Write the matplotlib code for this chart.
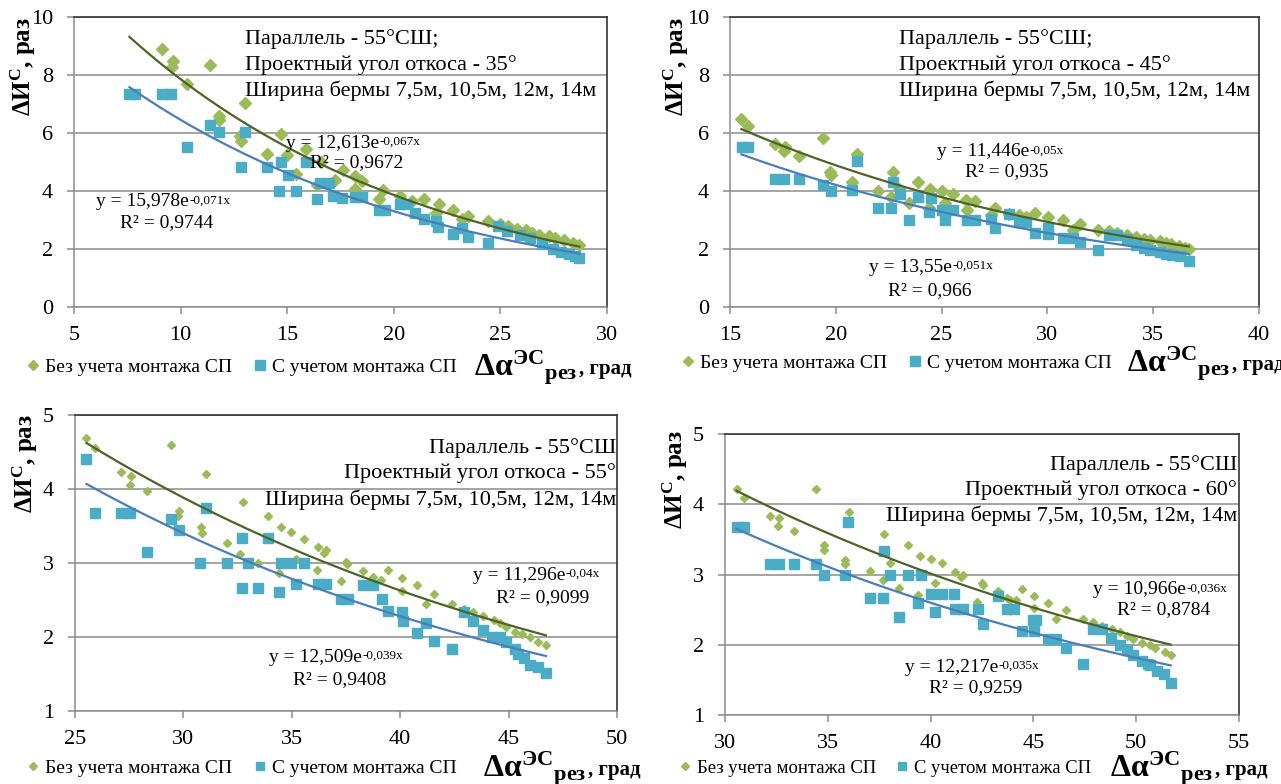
import matplotlib
matplotlib.use('Agg')
import matplotlib.pyplot as plt
import numpy as np

plt.rcParams['font.family'] = ['Liberation Serif', 'DejaVu Serif']
plt.rcParams['mathtext.fontset'] = 'custom'
plt.rcParams['mathtext.rm'] = 'Liberation Serif'
plt.rcParams['mathtext.it'] = 'Liberation Serif:italic'
plt.rcParams['mathtext.bf'] = 'Liberation Serif:bold'

# ---- data ----
p1_green_x = [9.12, 9.63, 9.6, 10.32, 11.37, 11.8, 11.8, 13.0, 12.8, 12.85, 14.03, 14.69, 15.0, 15.4, 15.87,
              16.6, 16.4, 17.25, 17.6, 18.17, 18.17, 18.5, 19.3, 19.5, 20.27, 20.85, 21.4, 22.1, 22.0, 22.8,
              23.2, 23.5, 24.4, 24.97, 25.35, 25.8, 26.2, 26.5, 26.8, 27.3, 27.55, 28.0, 28.4, 28.7]
p1_green_y = [8.88, 8.48, 8.28, 7.69, 8.36, 6.57, 6.45, 7.03, 5.88, 5.71, 5.27, 5.96, 5.23, 4.57, 5.45,
              5.0, 4.22, 4.39, 4.74, 4.51, 4.08, 4.34, 3.71, 4.05, 3.82, 3.65, 3.71, 3.54, 3.25, 3.36,
              3.02, 3.13, 2.96, 2.85, 2.79, 2.70, 2.64, 2.56, 2.50, 2.45, 2.39, 2.31, 2.22, 2.13]
p1_blue_x = [7.6, 7.87, 9.13, 9.55, 10.32, 11.37, 11.81, 13.0, 12.85, 14.03, 14.63, 14.72, 15.03, 15.4, 15.87,
             16.4, 16.54, 16.98, 17.17, 17.56, 18.17, 18.51, 19.3, 19.6, 20.27, 20.6, 21.0, 21.42, 22.0, 22.06,
             22.8, 23.2, 23.5, 24.4, 24.87, 25.3, 25.9, 26.4, 26.97, 27.45, 27.84, 28.22, 28.5, 28.7]
p1_blue_y = [7.33, 7.33, 7.33, 7.33, 5.51, 6.26, 6.03, 6.03, 4.82, 4.83, 3.99, 5.0, 4.54, 3.99, 5.0,
             3.74, 4.28, 4.28, 3.84, 3.76, 3.80, 3.80, 3.36, 3.36, 3.54, 3.54, 3.25, 3.02, 2.96, 2.76,
             2.53, 2.73, 2.41, 2.22, 2.79, 2.62, 2.5, 2.39, 2.16, 1.99, 1.90, 1.82, 1.76, 1.70]

p2_green_x = [15.54, 15.87, 17.12, 17.6, 17.54, 18.28, 19.39, 19.72, 19.76, 20.78, 21.01, 22.0, 22.71, 22.61,
              23.0, 23.44, 23.87, 24.45, 24.41, 25.02, 25.18, 25.56, 26.14, 26.18, 26.56, 27.34, 27.53, 28.2,
              28.68, 28.98, 29.42, 30.03, 30.75, 31.2, 31.54, 32.39, 32.93, 33.3, 33.76, 34.18, 34.56, 34.85,
              35.34, 35.62, 35.82, 36.2, 36.49, 36.68]
p2_green_y = [6.49, 6.24, 5.63, 5.52, 5.39, 5.22, 5.84, 4.66, 4.54, 4.31, 5.26, 4.0, 4.66, 3.79,
              4.08, 3.59, 4.31, 4.08, 3.4, 4.0, 3.59, 3.89, 3.70, 3.33, 3.66, 3.16, 3.43, 3.22,
              3.16, 3.10, 3.25, 3.10, 2.99, 2.64, 2.85, 2.67, 2.61, 2.55, 2.47, 2.41, 2.36, 2.30,
              2.28, 2.22, 2.16, 2.09, 2.05, 1.99]
p2_blue_x = [15.58, 15.87, 17.12, 17.54, 18.28, 19.39, 19.76, 20.78, 21.01, 22.0, 22.61, 22.71, 23.02, 23.44,
             23.87, 24.41, 24.48, 25.02, 25.18, 25.56, 26.18, 26.56, 27.34, 27.53, 28.2, 28.68, 28.98, 29.42,
             30.03, 30.03, 30.75, 31.2, 31.54, 32.39, 32.93, 33.3, 33.76, 34.18, 34.56, 34.85, 35.34, 35.62,
             35.9, 36.29, 36.68]
p2_blue_y = [5.52, 5.52, 4.40, 4.40, 4.40, 4.20, 4.0, 4.02, 5.02, 3.43, 3.43, 4.31, 3.89, 3.01,
             3.79, 3.28, 3.77, 3.36, 3.01, 3.36, 3.01, 3.01, 3.05, 2.72, 3.2, 2.93, 2.93, 2.55,
             2.74, 2.53, 2.39, 2.39, 2.24, 1.98, 2.47, 2.47, 2.33, 2.13, 2.03, 1.98, 1.90, 1.84,
             1.80, 1.75, 1.59]

p3_green_x = [25.53, 25.94, 27.13, 27.58, 27.54, 28.33, 29.43, 29.8, 29.77, 30.8, 30.84, 31.03, 32.03, 32.63,
              32.76, 33.44, 33.89, 34.51, 34.42, 34.97, 35.21, 35.57, 36.2, 36.17, 36.5, 36.58, 37.28, 37.49,
              37.53, 38.28, 38.75, 39.13, 39.45, 40.1, 40.07, 40.77, 41.2, 41.58, 42.39, 42.96, 43.37, 43.84,
              44.31, 44.59, 44.87, 45.29, 45.63, 46.0, 46.34, 46.72]
p3_green_y = [4.69, 4.55, 4.23, 4.18, 4.06, 3.97, 4.59, 3.70, 3.64, 3.48, 3.40, 4.20, 3.27, 3.12,
              3.82, 3.0, 3.64, 3.48, 2.87, 3.42, 3.06, 3.33, 3.21, 2.91, 3.14, 3.17, 2.76, 3.02,
              2.99, 2.89, 2.81, 2.77, 2.91, 2.8, 2.62, 2.70, 2.45, 2.58, 2.45, 2.38, 2.34, 2.28,
              2.23, 2.19, 2.13, 2.07, 2.04, 2.0, 1.93, 1.89]
p3_blue_x = [25.53, 25.9, 27.13, 27.54, 28.33, 29.43, 29.8, 30.78, 31.03, 32.03, 32.69, 32.72, 33.0, 33.44,
             33.89, 34.42, 34.51, 34.97, 35.21, 35.57, 36.2, 36.58, 37.28, 37.58, 38.28, 38.75, 39.17, 39.45,
             40.07, 40.13, 40.77, 41.2, 41.58, 42.39, 42.96, 43.37, 43.8, 44.22, 44.59, 44.87, 45.29, 45.44,
             45.69, 46.0, 46.34, 46.72]
p3_blue_y = [4.40, 3.67, 3.67, 3.67, 3.15, 3.59, 3.44, 3.0, 3.75, 3.0, 2.66, 3.34, 3.0, 2.66,
             3.34, 2.61, 3.0, 3.0, 2.71, 3.0, 2.72, 2.72, 2.52, 2.52, 2.70, 2.70, 2.51, 2.35,
             2.34, 2.22, 2.06, 2.19, 1.95, 1.84, 2.34, 2.21, 2.10, 2.0, 2.0, 1.93, 1.84, 1.77,
             1.71, 1.62, 1.59, 1.51]

p4_green_x = [30.56, 30.93, 32.18, 32.62, 32.58, 33.34, 34.45, 34.81, 34.81, 35.84, 35.84, 36.04, 37.03, 37.69,
              37.72, 38.02, 38.46, 38.88, 39.49, 39.41, 40.01, 40.21, 40.56, 41.2, 41.5, 41.6, 42.25, 42.51,
              42.55, 43.28, 43.74, 43.84, 44.14, 44.44, 45.03, 45.03, 45.73, 46.12, 46.58, 47.41, 47.91, 48.35,
              48.81, 49.2, 49.54, 49.86, 50.29, 50.65, 50.93, 51.39, 51.68]
p4_green_y = [4.21, 4.09, 3.83, 3.81, 3.69, 3.62, 4.21, 3.42, 3.35, 3.21, 3.15, 3.89, 3.05, 2.92,
              3.57, 3.17, 2.81, 3.42, 3.27, 2.71, 3.22, 2.88, 3.16, 3.04, 2.96, 3.0, 2.61, 2.88,
              2.85, 2.77, 2.67, 2.64, 2.63, 2.79, 2.69, 2.52, 2.60, 2.36, 2.49, 2.37, 2.33, 2.27,
              2.22, 2.18, 2.12, 2.08, 2.03, 2.0, 1.96, 1.90, 1.85]
p4_blue_x = [30.56, 30.93, 32.18, 32.62, 33.34, 34.45, 34.81, 35.84, 36.0, 37.03, 37.69, 37.72, 38.02, 38.46,
             38.88, 39.41, 39.53, 40.01, 40.21, 40.56, 41.16, 41.2, 41.56, 42.29, 42.55, 43.28, 43.74, 44.04,
             44.44, 44.97, 45.13, 45.03, 45.73, 46.12, 46.58, 47.41, 47.91, 48.35, 48.76, 49.2, 49.54, 49.86,
             50.29, 50.59, 50.69, 50.99, 51.33, 51.68]
p4_blue_y = [3.67, 3.67, 3.15, 3.15, 3.15, 3.15, 3.0, 3.0, 3.75, 2.66, 2.66, 3.33, 3.0, 2.40,
             3.0, 2.60, 3.0, 2.72, 2.46, 2.72, 2.72, 2.51, 2.51, 2.51, 2.30, 2.70, 2.51, 2.51,
             2.20, 2.35, 2.35, 2.20, 2.08, 2.08, 1.95, 1.73, 2.22, 2.22, 2.10, 1.99, 1.93, 1.85,
             1.77, 1.73, 1.71, 1.63, 1.58, 1.46]

# trendline coefficients y = a*exp(b*x) (dark green line, blue line)
green_a = [15.978, 13.55, 12.509, 12.217]
green_b = [-0.071, -0.051, -0.039, -0.035]
blue_a = [12.613, 11.446, 11.296, 10.966]
blue_b = [-0.067, -0.05, -0.04, -0.036]

# equation labels as printed (upper, lower)
eq_upper = [('12,613', '-0,067x', '0,9672'), ('11,446', '-0,05x', '0,935'),
            ('11,296', '-0,04x', '0,9099'), ('10,966', '-0,036x', '0,8784')]
eq_lower = [('15,978', '-0,071x', '0,9744'), ('13,55', '-0,051x', '0,966'),
            ('12,509', '-0,039x', '0,9408'), ('12,217', '-0,035x', '0,9259')]
slope_angles = ['35°', '45°', '55°', '60°']
series_names = ['Без учета монтажа СП', 'С учетом монтажа СП']

x_limits = [(5, 30), (15, 40), (25, 50), (30, 55)]
y_limits = [(0, 10), (0, 10), (1, 5), (1, 5)]
y_steps = [2, 2, 1, 1]

W, H = 1281, 784
fig = plt.figure(figsize=(W / 100, H / 100), dpi=100)


def fx(px):
    return px / W


def fy(py):
    return 1 - py / H


# axes boxes in pixels: left, right, top, bottom
boxes = [(74, 607, 17, 307), (730, 1259, 17, 307), (75, 617, 415, 711), (725, 1239, 434, 715)]
# annotation block: x, y of lines, alignment
ann_pos = [(245, [39, 65, 91], 'left'), (899, [39, 65, 91], 'left'),
           (616, [448, 473, 500], 'right'), (1237, [465, 490, 516], 'right')]
eq_up_pos = [(357, 143, 163), (1007, 152, 172), (543, 575, 598), (1164, 590, 610)]
eq_lo_pos = [(167, 202, 223), (930, 267, 291), (340, 657, 680), (976, 667, 688)]
ylab_pos = [(23, 67), (676, 67), (25, 464), (675, 480)]
leg_pos = [(27, 367), (682, 363), (27, 768), (679, 768)]
leg_size = [14, 14, 14, 13.4]
xlab_pos = [(474, 368), (1127, 364), (483, 769), (1110, 769)]
marker_sizes = [(6.0, 7.5), (6.0, 7.5), (4.2, 6.8), (4.2, 6.8)]

panels = [(p1_green_x, p1_green_y, p1_blue_x, p1_blue_y),
          (p2_green_x, p2_green_y, p2_blue_x, p2_blue_y),
          (p3_green_x, p3_green_y, p3_blue_x, p3_blue_y),
          (p4_green_x, p4_green_y, p4_blue_x, p4_blue_y)]

for i, (gx, gy, bx, by) in enumerate(panels):
    l, r, t, b = boxes[i]
    ax = fig.add_axes([fx(l), fy(b), (r - l) / W, (b - t) / H])
    ax.set_xlim(*x_limits[i])
    ax.set_ylim(*y_limits[i])
    ax.set_xticks(np.arange(x_limits[i][0], x_limits[i][1] + 1, 5))
    ax.set_yticks(np.arange(y_limits[i][0], y_limits[i][1] + 0.1, y_steps[i]))
    ax.yaxis.grid(True, color='#8c8c8c', lw=1.1)
    ax.set_axisbelow(True)
    for s in ['left', 'bottom']:
        ax.spines[s].set_color('#8c8c8c')
        ax.spines[s].set_linewidth(1.1)
    for s in ['top', 'right']:
        ax.spines[s].set_color('#333333')
        ax.spines[s].set_linewidth(1.2)
    ax.tick_params(labelsize=16, color='#8c8c8c', length=5, width=1.1, direction='out')
    ax.tick_params(axis='x', pad=9)
    ax.tick_params(axis='y', pad=10)

    ms_d, ms_s = marker_sizes[i]
    hg, = ax.plot(gx, gy, 'D', color='#9BBB59', ms=ms_d, mec='#9BBB59', ls='none', zorder=3)
    hb, = ax.plot(bx, by, 's', color='#4BACC6', ms=ms_s, mec='#4BACC6', ls='none', zorder=4)

    xx = np.linspace(min(min(gx), min(bx)), max(max(gx), max(bx)), 200)
    ax.plot(xx, green_a[i] * np.exp(green_b[i] * xx), color='#4F6228', lw=1.6, zorder=5)
    ax.plot(xx, blue_a[i] * np.exp(blue_b[i] * xx), color='#4A7EBB', lw=1.6, zorder=5)

    # text block
    ax_x, ys, ha = ann_pos[i]
    semi = ';' if i < 2 else ''
    lines = ['Параллель - 55°СШ' + semi, 'Проектный угол откоса - ' + slope_angles[i],
             'Ширина бермы 7,5м, 10,5м, 12м, 14м']
    for txt, yy in zip(lines, ys):
        fig.text(fx(ax_x), fy(yy), txt, fontsize=16, ha=ha, va='center', zorder=10)

    # equations: base text + small raised exponent
    for (a, e, r2), (cx, y1, y2) in [(eq_upper[i], eq_up_pos[i]), (eq_lower[i], eq_lo_pos[i])]:
        base = fig.text(fx(cx + 22), fy(y1), 'y = ' + a + 'e', fontsize=14,
                        ha='right', va='center', zorder=10)
        ax.annotate(e, xy=(1, 0.92), xycoords=base, xytext=(0.5, 0), textcoords='offset points',
                    fontsize=9.5, ha='left', va='top', zorder=10, annotation_clip=False)
        fig.text(fx(cx), fy(y2), 'R² = ' + r2, fontsize=14, ha='center', va='center', zorder=10)

    # y label
    yx, yy = ylab_pos[i]
    fig.text(fx(yx), fy(yy), r'$\mathbf{\Delta И^{С}}$, раз', fontsize=18, fontweight='bold',
             rotation=90, ha='center', va='center')

    # legend
    lx, ly = leg_pos[i]
    ax.legend([hg, hb], series_names, loc='center left', bbox_to_anchor=(fx(lx), fy(ly)),
              bbox_transform=fig.transFigure, ncol=2, frameon=False, fontsize=leg_size[i],
              handlelength=0.6, handletextpad=0.35, columnspacing=1.1, borderpad=0, borderaxespad=0,
              markerscale=0.9)

    # x label
    xlx, xly = xlab_pos[i]
    t1 = fig.text(fx(xlx), fy(xly), r'$\mathbf{\Delta\alpha}^{\mathbf{ЭС}}{}_{\mathbf{рез}}$',
                  fontsize=23, ha='left', va='center')
    ax.annotate(', град', xy=(1, 0.22), xycoords=t1, xytext=(1, 0), textcoords='offset points',
                fontsize=15, fontweight='bold', ha='left', va='bottom', annotation_clip=False)

fig.savefig('out.png', dpi=100)
